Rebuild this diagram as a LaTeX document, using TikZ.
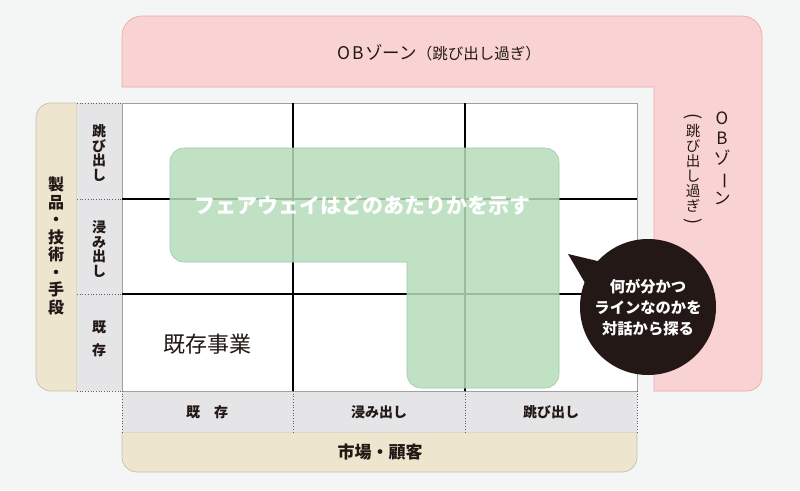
\documentclass[tikz,border=0pt]{standalone}
\usepackage{fontspec}
\setmainfont{Noto Sans CJK JP}
\usepackage{graphicx}
\definecolor{bgc}{HTML}{F4F6F5}
\definecolor{pinkf}{HTML}{F9D3D3}
\definecolor{pinkd}{HTML}{F0A6AD}
\definecolor{beigef}{HTML}{EDE5CD}
\definecolor{beiged}{HTML}{C5BFAF}
\definecolor{grayf}{HTML}{E5E5E7}
\definecolor{gridb}{HTML}{A0A0A0}
\definecolor{greenf}{HTML}{B5DCBA}
\definecolor{greend}{HTML}{A0C9A6}
\definecolor{inkc}{HTML}{231815}
\tikzset{
  pinkzone/.style={fill=pinkf,draw=pinkd,line width=0.7pt},
  beigebox/.style={fill=beigef,draw=beiged,line width=0.7pt},
  graybox/.style={fill=grayf},
  gridline/.style={draw=black,line width=1.6pt},
  dotline/.style={draw=inkc!70,dotted,line width=0.7pt},
  greenzone/.style={fill=greenf,fill opacity=0.85,draw=greend,line width=0.6pt},
  bubblec/.style={fill=inkc},
  txt/.style={inner sep=0pt,text=inkc,align=center},
}
\newcommand{\vbar}{\rotatebox[origin=c]{-90}{ー}}
\newcommand{\vlp}{{\fontsize{18}{15}\selectfont\rotatebox[origin=c]{-90}{(}}}
\newcommand{\vrp}{{\fontsize{18}{15}\selectfont\rotatebox[origin=c]{-90}{)}}}
\begin{document}
\begin{tikzpicture}[x=1pt,y=-1pt]
\useasboundingbox (0,0) rectangle (800,490);
\fill[bgc] (0,0) rectangle (800,490);
% pink OB zone
\path[pinkzone] (122,87) -- (122,36) arc[start angle=180,end angle=270,radius=20]
  -- (742,16) arc[start angle=270,end angle=360,radius=20]
  -- (762,376) arc[start angle=0,end angle=90,radius=15]
  -- (654,391) -- (654,87) -- cycle;
% beige axes
\path[beigebox] (77,103) -- (51,103) arc[start angle=270,end angle=180,radius=15]
  -- (36,376) arc[start angle=180,end angle=90,radius=15] -- (77,391) -- cycle;
\path[beigebox] (122,432) -- (122,457) arc[start angle=180,end angle=90,radius=15]
  -- (622,472) arc[start angle=90,end angle=0,radius=15] -- (637,432) -- cycle;
% gray label strips
\fill[graybox] (77,103) rectangle (122,391);
\fill[graybox] (122,391) rectangle (637,432);
% main grid
\path[fill=white,draw=gridb,line width=0.8pt] (122,103) rectangle (637,391);
\draw[gridline] (293,103) -- (293,391);
\draw[gridline] (465,103) -- (465,391);
\draw[gridline] (122,199) -- (637,199);
\draw[gridline] (122,294) -- (637,294);
% dotted separators
\draw[dotline] (77,103) -- (122,103);
\draw[dotline] (77,199) -- (122,199);
\draw[dotline] (77,294) -- (122,294);
\draw[dotline] (77,391) -- (122,391);
\draw[dotline] (122,391) -- (122,432);
\draw[dotline] (293,391) -- (293,432);
\draw[dotline] (465,391) -- (465,432);
\draw[dotline] (637,391) -- (637,432);
% fairway
\path[greenzone] (407,262) -- (184,262) arc[start angle=90,end angle=180,radius=14]
  -- (170,162) arc[start angle=180,end angle=270,radius=14]
  -- (545,148) arc[start angle=270,end angle=360,radius=14]
  -- (559,374) arc[start angle=0,end angle=90,radius=14]
  -- (421,388) arc[start angle=90,end angle=180,radius=14] -- cycle;
% texts
\node[txt] (title) at (439,53) {{\fontsize{17.5}{20}\selectfont O\hspace{2.5pt}B\hspace{1pt}ゾーン}{\fontsize{15.5}{18}\selectfont （跳び出し過ぎ）}};
\node[txt,font=\fontsize{17}{20}\selectfont] (obv1) at (722,158) {O\\B\\ゾ\\\vbar\\ン};
\node[txt,font=\fontsize{14.5}{15}\selectfont] (obv2) at (693,170) {\vlp\\跳\\び\\出\\し\\過\\ぎ\\\vrp};
\node[txt,font=\fontsize{16}{17.5}\selectfont\bfseries] (axisY) at (56,246) {製\\品\\・\\技\\術\\・\\手\\段};
\node[txt,font=\fontsize{14}{14.6}\selectfont\bfseries] (rowA) at (99,153) {跳\\び\\出\\し};
\node[txt,font=\fontsize{14}{14.6}\selectfont\bfseries] (rowB) at (99,249) {浸\\み\\出\\し};
\node[txt,font=\fontsize{14}{23}\selectfont\bfseries] (rowC) at (99,339) {既\\存};
\node[txt,font=\fontsize{14}{16}\selectfont\bfseries] (colA) at (207,412) {既　存};
\node[txt,font=\fontsize{14}{16}\selectfont\bfseries] (colB) at (379,412) {浸み出し};
\node[txt,font=\fontsize{14}{16}\selectfont\bfseries] (colC) at (551,412) {跳び出し};
\node[txt,font=\fontsize{17}{20}\selectfont\bfseries] (axisX) at (380,452) {市場・顧客};
\node[txt,font=\fontsize{22}{24}\selectfont] (kizon) at (207,344) {既存事業};
\node[txt,text=white,font=\fontsize{21}{24}\selectfont\bfseries] (fairway) at (362,205) {フェアウェイはどのあたりかを示す};
% bubble
\fill[bubblec] (568,254) -- (606,263) -- (588,288) -- cycle;
\fill[bubblec] (648,307) circle[radius=68];
\node[txt,text=white,font=\fontsize{15.3}{21}\selectfont\bfseries] (bubbletext) at (648,308) {何が分かつ\\ラインなのかを\\対話から探る};
\end{tikzpicture}
\end{document}
